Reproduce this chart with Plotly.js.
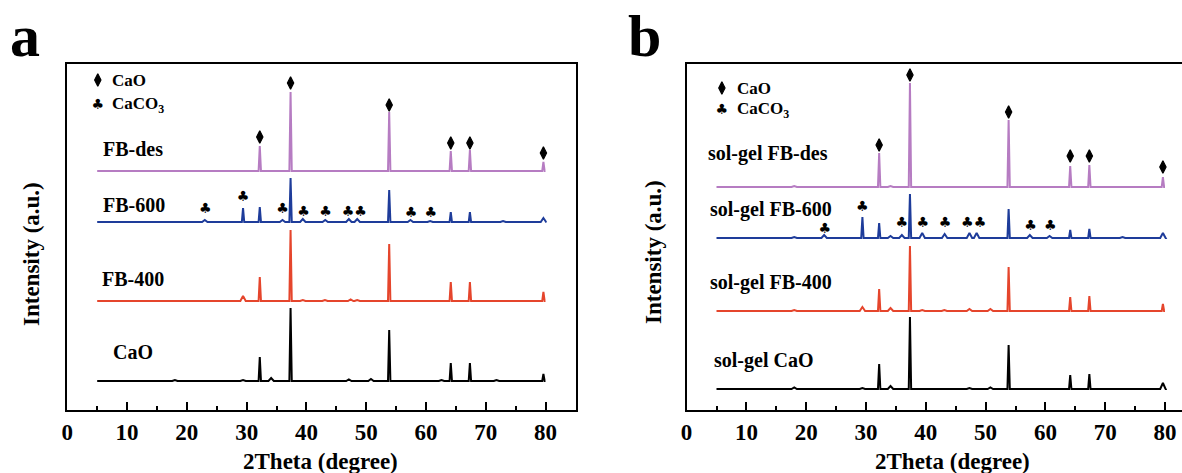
<!DOCTYPE html>
<html>
<head>
<meta charset="utf-8">
<script src="https://cdn.plot.ly/plotly-3.0.1.min.js"></script>
<style>html,body{margin:0;padding:0;background:#fff;}#chart{width:1182px;height:473px;}</style>
</head>
<body>
<div id="chart"></div>
<script>
// ---------- DATA (intensity in arbitrary units) ----------
const sampleLabelsA = ["CaO", "FB-400", "FB-600", "FB-des"];
const sampleLabelsB = ["sol-gel CaO", "sol-gel FB-400", "sol-gel FB-600", "sol-gel FB-des"];
const seriesColors = ["#000000", "#E5452C", "#1E3C9A", "#B67CC2"];
const scanStart = 5;
const scanEnd = 80;

// vertical offsets of the stacked patterns (a.u.)
const offsetsA = [29, 109, 188, 239];
const offsetsB = [21, 99, 172, 223];

// panel a peaks (2theta) and heights above each baseline
const aCaO_pos = [18.0, 29.4, 32.2, 34.1, 37.35, 47.1, 50.8, 53.85, 62.6, 64.15, 67.35, 71.8, 79.65];
const aCaO_h   = [1, 1, 24, 3, 73, 1.5, 2, 51, 1, 18, 18, 1, 7];
const aFB400_pos = [29.4, 32.2, 37.35, 39.4, 43.1, 47.4, 48.5, 53.85, 64.15, 67.35, 79.65];
const aFB400_h   = [5, 24, 71, 1, 1, 1.5, 1, 57, 19, 19, 9];
const aFB600_pos = [23.0, 29.4, 32.2, 36.0, 37.35, 39.4, 43.15, 47.1, 48.5, 53.85, 57.4, 60.7, 64.15, 67.35, 72.9, 79.65];
const aFB600_h   = [2, 14, 15, 2, 44, 3, 2, 3, 3, 32, 2, 1, 10, 10, 1, 4];
const aFBdes_pos = [32.2, 37.35, 53.85, 64.15, 67.35, 79.65];
const aFBdes_h   = [25, 79, 59, 20, 21, 9];

// panel b peaks
const bCaO_pos = [18.0, 29.4, 32.2, 34.1, 37.35, 47.3, 50.8, 53.85, 64.15, 67.35, 79.65];
const bCaO_h   = [1.5, 1, 25, 3, 72, 1, 1.5, 44, 14, 15, 6];
const bFB400_pos = [18.0, 29.4, 32.2, 34.1, 37.35, 39.4, 43.1, 47.3, 50.8, 53.85, 64.15, 67.35, 79.65];
const bFB400_h   = [1, 4, 22, 3, 65, 1, 1, 2, 2, 44, 14, 15, 7];
const bFB600_pos = [18.0, 23.0, 29.4, 32.2, 34.1, 36.0, 37.35, 39.4, 43.15, 47.3, 48.5, 53.85, 57.4, 60.7, 64.15, 67.35, 72.9, 79.65];
const bFB600_h   = [1, 3, 21, 15, 2, 3, 44, 5, 4, 5, 5, 29, 3, 2, 8, 9, 1, 5];
const bFBdes_pos = [18.0, 32.2, 34.1, 37.35, 53.85, 64.15, 67.35, 79.65];
const bFBdes_h   = [1, 34, 1, 104, 67, 21, 22, 10];

// phase markers: CaO (diamond) and CaCO3 (club; the 47.3/48.7 pair is drawn as one double glyph)
const caoMark_pos = [32.2, 37.35, 53.85, 64.15, 67.35, 79.65];
const aCaoMark_y = [273, 327, 305, 267, 267, 257];
const bCaoMark_y = [265, 335, 298, 254, 254, 243];
const caco3Mark_pos = [23.1, 29.4, 36.0, 39.5, 43.2, 48.0, 57.5, 60.8];
const caco3Mark_txt = ["♣", "♣", "♣", "♣", "♣", "♣♣", "♣", "♣"];
const aCaco3Mark_y = [201, 213, 201, 198, 198, 198, 197, 197];
const bCaco3Mark_y = [181, 203, 187, 187, 187, 187, 184, 184];

const xTickVals = [0, 10, 20, 30, 40, 50, 60, 70, 80];
const xTitle = "2Theta (degree)";
const yTitle = "Intensity (a.u.)";
const phaseNames = ["CaO", "CaCO<sub>3</sub>"];

// ---------- BUILD ----------
const SERIF = "Liberation Serif, Times New Roman, serif";
const SYM = "DejaVu Sans, sans-serif";

function pattern(pos, h, base) {
  const xs = [scanStart], ys = [base];
  for (let i = 0; i < pos.length; i++) {
    const w = h[i] > 6 ? 0.2 : 0.45;
    xs.push(pos[i] - w, pos[i], pos[i] + w);
    ys.push(base, base + h[i], base);
  }
  xs.push(scanEnd); ys.push(base);
  return {xs, ys};
}

const traces = [];
function addPanel(list, offsets, xa, ya) {
  list.forEach((s, i) => {
    const p = pattern(s[0], s[1], offsets[i]);
    traces.push({type: "scatter", mode: "lines", x: p.xs, y: p.ys, xaxis: xa, yaxis: ya,
      line: {color: seriesColors[i], width: 2}, hoverinfo: "skip", showlegend: false});
  });
}
addPanel([[aCaO_pos, aCaO_h], [aFB400_pos, aFB400_h], [aFB600_pos, aFB600_h], [aFBdes_pos, aFBdes_h]], offsetsA, "x", "y");
addPanel([[bCaO_pos, bCaO_h], [bFB400_pos, bFB400_h], [bFB600_pos, bFB600_h], [bFBdes_pos, bFBdes_h]], offsetsB, "x2", "y2");

const diamondMarker = {symbol: "diamond-tall", size: 9, color: "#000", line: {width: 1.2, color: "#000"}};
const clubFont = {family: SYM, size: 14, color: "#000"};

function addMarks(dx, dy, cx, cy, xa, ya) {
  traces.push({type: "scatter", mode: "markers", x: dx, y: dy, xaxis: xa, yaxis: ya,
    marker: diamondMarker, hoverinfo: "skip", showlegend: false, cliponaxis: false});
  traces.push({type: "scatter", mode: "text", x: cx, y: cy, xaxis: xa, yaxis: ya,
    text: caco3Mark_txt, textfont: clubFont, hoverinfo: "skip", showlegend: false, cliponaxis: false});
}
addMarks(caoMark_pos, aCaoMark_y, caco3Mark_pos, aCaco3Mark_y, "x", "y");
addMarks(caoMark_pos, bCaoMark_y, caco3Mark_pos, bCaco3Mark_y, "x2", "y2");

// legend symbols inside the frames
const legA = {x: 5.1, y1: 330, y2: 305, tx: 7.2};
const legB = {x: 5.9, y1: 322, y2: 300, tx: 8.1};
[[legA, "x", "y"], [legB, "x2", "y2"]].forEach(([L, xa, ya]) => {
  traces.push({type: "scatter", mode: "markers", x: [L.x], y: [L.y1], xaxis: xa, yaxis: ya,
    marker: diamondMarker, hoverinfo: "skip", showlegend: false});
  traces.push({type: "scatter", mode: "text", x: [L.x], y: [L.y2], xaxis: xa, yaxis: ya,
    text: ["♣"], textfont: clubFont, hoverinfo: "skip", showlegend: false});
});

const W = 1182, H = 473;
const yDom = [(H - 410) / H, (H - 64) / H];
function xaxisDef(domain, range, anchor) {
  return {domain, range, anchor, showgrid: false, zeroline: false,
    showline: true, linecolor: "#000", linewidth: 2, mirror: true,
    ticks: "inside", ticklen: 8, tickwidth: 2, tickcolor: "#000",
    tickvals: xTickVals, ticktext: xTickVals.map(String),
    minor: {ticks: "inside", ticklen: 4, tickwidth: 2, tickcolor: "#000", dtick: 5, tick0: 0, showgrid: false},
    tickfont: {family: SERIF, size: 23, color: "#000", weight: "bold"}, fixedrange: true};
}
function yaxisDef(anchor, mirror) {
  return {domain: yDom, range: [0, 346], anchor, showgrid: false, zeroline: false,
    showline: true, linecolor: "#000", linewidth: 2, mirror, ticks: "", showticklabels: false, fixedrange: true};
}

const bold = (size) => ({family: SERIF, size, color: "#000", weight: "bold"});
const ann = [];
function label(text, x, y, xref, yref, size, xanchor) {
  ann.push({text, x, y, xref, yref, showarrow: false, xanchor: xanchor || "left", yanchor: "middle", font: bold(size)});
}
// sample labels
label(sampleLabelsA[3], 5.6, 261, "x", "y", 20);
label(sampleLabelsA[2], 5.6, 205, "x", "y", 20);
label(sampleLabelsA[1], 5.5, 131, "x", "y", 20);
label(sampleLabelsA[0], 7.3, 58, "x", "y", 20);
label(sampleLabelsB[3], 3.2, 257, "x2", "y2", 20);
label(sampleLabelsB[2], 3.6, 201, "x2", "y2", 20);
label(sampleLabelsB[1], 3.6, 128, "x2", "y2", 20);
label(sampleLabelsB[0], 4.2, 50, "x2", "y2", 20);
// legend texts
label(phaseNames[0], legA.tx, legA.y1, "x", "y", 17);
label(phaseNames[1], legA.tx, legA.y2, "x", "y", 17);
label(phaseNames[0], legB.tx, legB.y1, "x2", "y2", 17);
label(phaseNames[1], legB.tx, legB.y2, "x2", "y2", 17);
// axis titles
ann.push({text: xTitle, x: 320 / W, y: 1 - 461 / H, xref: "paper", yref: "paper", showarrow: false, xanchor: "center", yanchor: "middle", font: bold(23)});
ann.push({text: xTitle, x: 952 / W, y: 1 - 461 / H, xref: "paper", yref: "paper", showarrow: false, xanchor: "center", yanchor: "middle", font: bold(23)});
ann.push({text: yTitle, x: 31 / W, y: 1 - 254 / H, xref: "paper", yref: "paper", showarrow: false, xanchor: "center", yanchor: "middle", textangle: -90, font: bold(23)});
ann.push({text: yTitle, x: 653 / W, y: 1 - 252 / H, xref: "paper", yref: "paper", showarrow: false, xanchor: "center", yanchor: "middle", textangle: -90, font: bold(23)});
// panel letters
ann.push({text: "a", x: 25 / W, y: 1 - 36 / H, xref: "paper", yref: "paper", showarrow: false, xanchor: "center", yanchor: "middle", font: bold(60)});
ann.push({text: "b", x: 644 / W, y: 1 - 36 / H, xref: "paper", yref: "paper", showarrow: false, xanchor: "center", yanchor: "middle", font: bold(60)});

const layout = {
  width: W, height: H, margin: {l: 0, r: 0, t: 0, b: 0},
  paper_bgcolor: "#fff", plot_bgcolor: "#fff", showlegend: false,
  xaxis: xaxisDef([67.3 / W, 576 / W], [0, 85.1], "y"),
  yaxis: yaxisDef("x", true),
  xaxis2: xaxisDef([686.6 / W, 1], [0, (W - 686.6) / 5.98], "y2"),
  yaxis2: yaxisDef("x2", false),
  annotations: ann
};
Plotly.newPlot("chart", traces, layout, {displayModeBar: false, staticPlot: true});
</script>
</body>
</html>
